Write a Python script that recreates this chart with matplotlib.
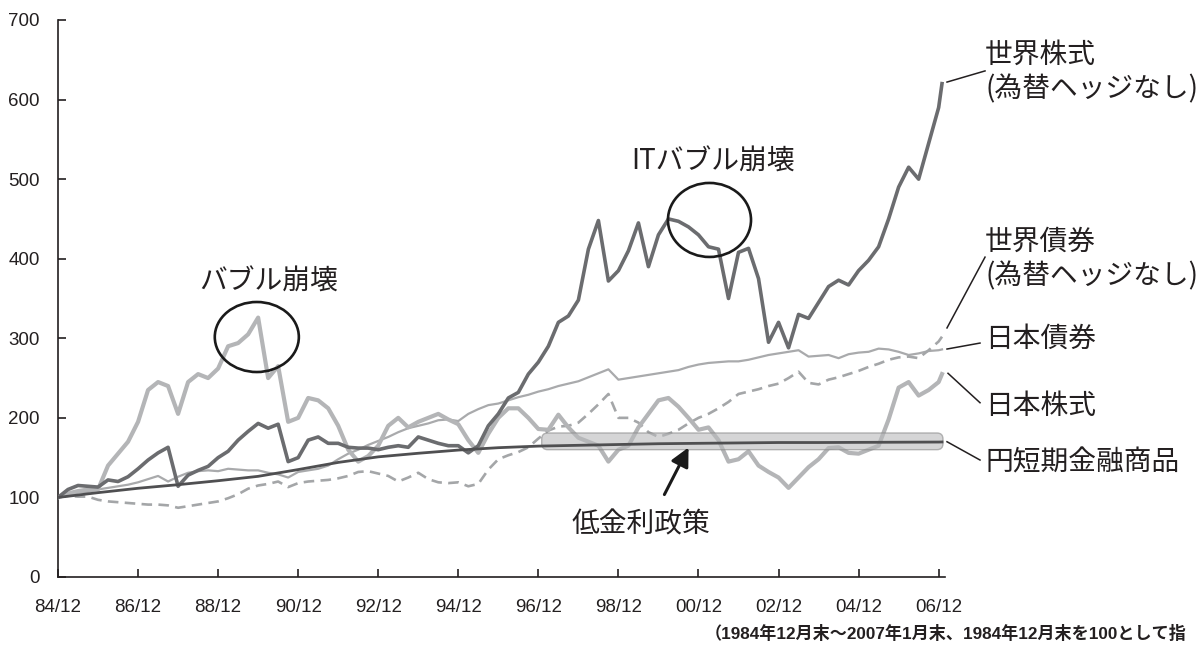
import numpy as np
import matplotlib.pyplot as plt
from matplotlib.patches import Ellipse, FancyBboxPatch

plt.rcParams['font.family'] = ['Liberation Sans', 'Noto Sans CJK JP']
JP = ['Noto Sans CJK JP', 'DejaVu Sans']

# quarterly readings from 84/12 (month 0) to 06/12 (month 264), plus 07/01
months = list(range(0, 265, 3)) + [265]

world_stock = [100, 110, 115, 114, 113, 122, 120, 126, 136, 147,
               156, 163, 114, 128, 134, 139, 150, 158, 172, 183,
               193, 187, 192, 145, 150, 172, 176, 168, 168, 163,
               162, 162, 160, 163, 165, 163, 176, 172, 168, 165,
               165, 156, 165, 190, 205, 225, 232, 255, 270, 290,
               320, 328, 348, 412, 448, 372, 385, 410, 445, 390,
               430, 450, 447, 440, 430, 415, 412, 350, 408, 413,
               375, 295, 320, 288, 330, 325, 345, 365, 373, 367,
               385, 398, 415, 450, 490, 515, 500, 545, 590,
               620]

japan_stock = [100, 105, 108, 110, 110, 140, 155, 170, 195, 235,
               245, 240, 205, 245, 255, 250, 262, 290, 294, 305,
               326, 250, 265, 195, 200, 225, 222, 212, 190, 160,
               145, 152, 165, 190, 200, 188, 195, 200, 205, 198,
               192, 172, 156, 180, 200, 212, 212, 200, 186, 185,
               204, 188, 175, 170, 165, 145, 160, 165, 188, 205,
               222, 225, 214, 200, 185, 188, 172, 145, 148, 158,
               140, 132, 125, 112, 125, 138, 148, 162, 163, 156,
               155, 160, 165, 198, 238, 245, 228, 235, 245,
               255]

world_bond = [100, 102, 101, 101, 97, 95, 94, 93, 92, 91,
              91, 90, 87, 89, 91, 93, 95, 99, 104, 111,
              115, 117, 120, 113, 118, 120, 121, 122, 124, 127,
              132, 133, 130, 127, 120, 125, 131, 123, 119, 118,
              119, 114, 117, 135, 148, 153, 157, 163, 174, 184,
              189, 190, 194, 205, 217, 230, 200, 200, 194, 182,
              176, 180, 185, 193, 200, 205, 212, 220, 230, 233,
              236, 240, 243, 250, 258, 244, 242, 248, 251, 255,
              259, 264, 268, 273, 276, 277, 275, 285, 296,
              302]

japan_bond = [100, 103, 106, 107, 110, 112, 114, 116, 119, 123,
              127, 120, 126, 131, 133, 134, 133, 136, 135, 134,
              134, 131, 129, 125, 132, 134, 136, 140, 148, 155,
              160, 166, 171, 176, 182, 187, 190, 193, 197, 198,
              196, 205, 211, 216, 218, 222, 226, 229, 233, 236,
              240, 243, 246, 251, 256, 261, 248, 250, 252, 254,
              256, 258, 260, 264, 267, 269, 270, 271, 271, 273,
              276, 279, 281, 283, 285, 277, 278, 279, 275, 280,
              282, 283, 287, 286, 283, 279, 281, 284, 285,
              286]

# yen short-term money market, yearly readings (smooth line)
months_yen = list(range(0, 265, 12)) + [265]
yen_short = [100, 106, 111.5, 116, 121, 126.5, 135, 144, 151, 155.5,
             159.5, 162.5, 164.5, 165.5, 166.5, 167.5, 168, 168.5,
             169, 169, 169.2, 169.4, 169.6, 169.7]

xtick_labels = ['84/12', '86/12', '88/12', '90/12', '92/12', '94/12',
                '96/12', '98/12', '00/12', '02/12', '04/12', '06/12']

fig = plt.figure(figsize=(11.97, 6.54), dpi=100)
ax = fig.add_axes([0.04845, 0.11774, 0.74102, 0.85168])

ax.plot(months, japan_bond, color='#a9aaac', lw=1.6, zorder=2)
ax.plot(months, world_bond, color='#a4a6a8', lw=1.9, ls=(0, (4, 2.4)), zorder=2)
ax.plot(months, japan_stock, color='#b4b5b7', lw=3.0, zorder=3, solid_joinstyle='round')
ax.plot(months, world_stock, color='#6b6c6f', lw=2.6, zorder=4, solid_joinstyle='round')

# low interest-rate band
box = FancyBboxPatch((145, 160), 120.3, 21,
                     boxstyle='round,pad=0,rounding_size=1.8',
                     mutation_aspect=4.2, facecolor='#b9babc', alpha=0.6,
                     edgecolor='#8a8a8a', lw=1, zorder=5)
ax.add_patch(box)
ax.plot(months_yen, yen_short, color='#4f4f51', lw=2.0, zorder=6)

# circles
ax.add_patch(Ellipse((59.6, 301.6), 25.2, 88, fill=False, ec='#1a1a1a', lw=1.9, zorder=7))
ax.add_patch(Ellipse((195.3, 448.7), 24.9, 93, fill=False, ec='#1a1a1a', lw=1.9, zorder=7))

ax.text(63, 371, 'バブル崩壊', family=JP, fontsize=20, ha='center', va='center', color='#231f20')
ax.text(196.3, 521.6, 'ITバブル崩壊', family=JP, fontsize=20, ha='center', va='center', color='#231f20')
ax.text(174.8, 66.6, '低金利政策', family=JP, fontsize=20, ha='center', va='center', color='#231f20')
ax.annotate('', xy=(189.4, 165.9), xytext=(181.4, 100.5),
            arrowprops=dict(arrowstyle='-|>', color='#1a1a1a', lw=2.2, mutation_scale=28),
            zorder=8)

# right-hand labels with leader lines
lx = 277.9
labels = [
    ('世界株式', 656, (266.5, 622), (277.9, 636)),
    ('(為替ヘッジなし)', 613, None, None),
    ('世界債券', 421, (266.5, 313), (277.9, 402)),
    ('(為替ヘッジなし)', 378, None, None),
    ('日本債券', 299, (266.5, 286.5), (276.4, 294)),
    ('日本株式', 215, (266.8, 256), (276.4, 219)),
    ('円短期金融商品', 144.5, (266.5, 170), (276.4, 147)),
]
for txt, ty, p0, p1 in labels:
    ax.text(lx, ty, txt, family=JP, fontsize=20, ha='left', va='center',
            color='#231f20', clip_on=False)
    if p0 is not None:
        ax.plot([p0[0], p1[0]], [p0[1], p1[1]], color='#231f20', lw=1.1, clip_on=False)

ax.set_xlim(0, 265.9)
ax.set_ylim(0, 700)
ax.set_xticks(range(0, 265, 24))
ax.set_xticklabels(xtick_labels)
ax.set_yticks(range(0, 701, 100))
for s in ['top', 'right']:
    ax.spines[s].set_visible(False)
for s in ['left', 'bottom']:
    ax.spines[s].set_linewidth(1.2)
    ax.spines[s].set_color('#231f20')
ax.tick_params(axis='both', direction='in', length=6, width=1.2, colors='#231f20', labelsize=13.5)
ax.tick_params(axis='x', pad=16)
ax.tick_params(axis='y', pad=13)

fig.text(0.589, 0.032, '（1984年12月末～2007年1月末、1984年12月末を100として指',
         family=['Liberation Sans', 'Noto Sans CJK JP'], fontsize=12.3, fontweight='bold',
         ha='left', va='center', color='#231f20')

fig.savefig('out.png', dpi=100)
